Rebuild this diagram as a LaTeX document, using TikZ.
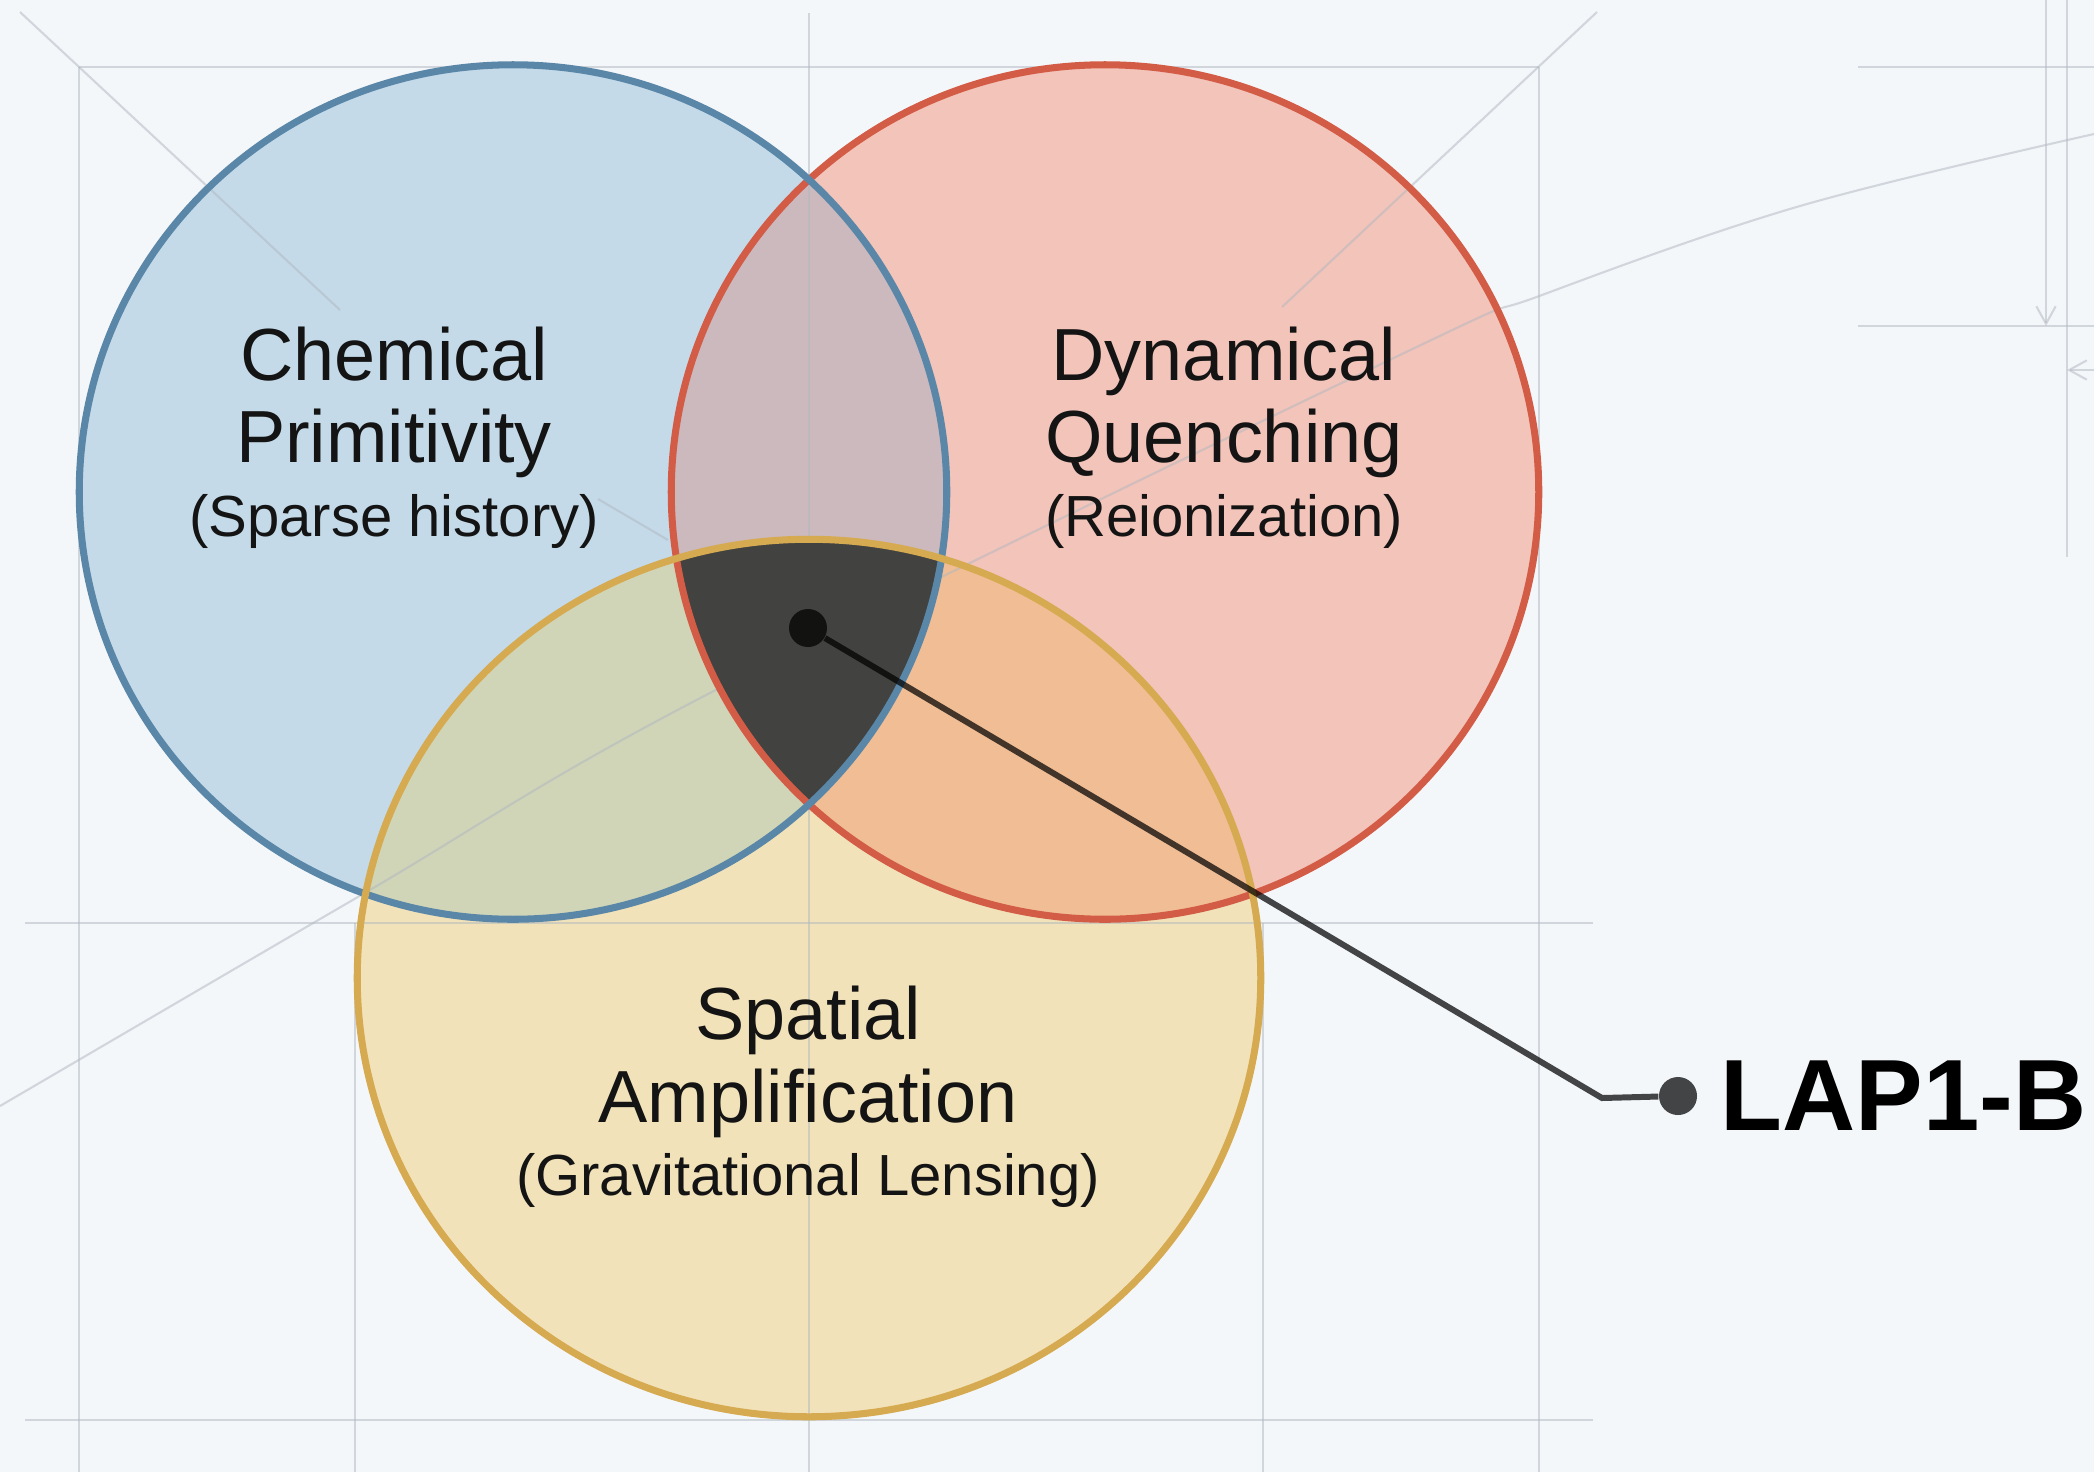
\documentclass[tikz,border=0pt]{standalone}
\usepackage{fontspec}
\setmainfont{Liberation Sans}
\usetikzlibrary{positioning,arrows.meta}

\definecolor{bgc}{RGB}{244,247,250}
\definecolor{gridc}{RGB}{176,183,191}
\definecolor{bluef}{RGB}{196,218,233}
\definecolor{redf}{RGB}{242,196,186}
\definecolor{yelf}{RGB}{242,226,186}
\definecolor{brf}{RGB}{203,185,190}
\definecolor{byf}{RGB}{208,213,184}
\definecolor{ryf}{RGB}{240,189,148}
\definecolor{allf}{RGB}{66,66,64}
\definecolor{bluel}{RGB}{90,135,168}
\definecolor{redl}{RGB}{210,92,70}
\definecolor{yell}{RGB}{214,170,80}
\definecolor{txt}{RGB}{20,20,20}

\begin{document}
\begin{tikzpicture}[x=0.01cm, y=-0.01cm,
	rbig/.style={x radius=4.335cm, y radius=4.27cm},
	rylw/.style={x radius=4.515cm, y radius=4.385cm},
	grid/.style={gridc, line width=0.6pt, opacity=0.5},
	ring/.style={line width=2pt},
	title/.style={anchor=base, text=txt, font=\fontsize{21}{25}\selectfont},
	sub/.style={anchor=base, text=txt, font=\fontsize{16.5}{20}\selectfont},
	conn/.style={black, opacity=0.72, line width=1.7pt},
	dot/.style={circle, fill=black, fill opacity=0.72, inner sep=0pt, minimum size=0.38cm},
	lapf/.style={inner sep=0pt, text=black, font=\fontsize{28.8}{34}\selectfont\bfseries},
	barb/.style={-{Straight Barb[length=5pt, width=5.5pt]}}]

	\fill[bgc] (0,0) rectangle (2094,1472);
	\useasboundingbox (0,0) rectangle (2094,1472);

	\coordinate (cb) at (513,492);
	\coordinate (cr) at (1105,492);
	\coordinate (cy) at (809,978);

	% fills
	\fill[bluef] (cb) ellipse [rbig];
	\fill[redf] (cr) ellipse [rbig];
	\fill[yelf] (cy) ellipse [rylw];
	\begin{scope}
		\clip (cb) ellipse [rbig];
		\fill[brf] (cr) ellipse [rbig];
		\fill[byf] (cy) ellipse [rylw];
	\end{scope}
	\begin{scope}
		\clip (cr) ellipse [rbig];
		\fill[ryf] (cy) ellipse [rylw];
	\end{scope}

	% construction lines
	\draw[grid] (79,67) -- (1539,67);
	\draw[grid] (25,923) -- (1593,923);
	\draw[grid] (25,1420) -- (1593,1420);
	\draw[grid] (79,67) -- (79,1472);
	\draw[grid] (355,923) -- (355,1472);
	\draw[grid] (809,13) -- (809,1472);
	\draw[grid] (1263,923) -- (1263,1472);
	\draw[grid] (1539,67) -- (1539,1472);
	\draw[grid] (20,12) -- (340,310);
	\draw[grid] (1597,12) -- (1282,307);
	\draw[grid] (598,499) -- (668,540);
	\draw[grid] plot[smooth, tension=0.6] coordinates {(0,1106) (363,894) (708,694) (1402,354) (1542,295) (1800,206) (2094,134)};

	\draw[grid] (1858,67) -- (2094,67);
	\draw[grid] (1858,326) -- (2094,326);
	\draw[grid, barb] (2046,0) -- (2046,326);
	\draw[grid] (2067,0) -- (2067,557);
	\draw[grid, barb] (2094,370) -- (2067,370);

	% centre
	\begin{scope}
		\clip (cb) ellipse [rbig];
		\clip (cr) ellipse [rbig];
		\fill[allf] (cy) ellipse [rylw];
	\end{scope}

	% rings
	\draw[ring, redl] (cr) ellipse [rbig];
	\draw[ring, bluel] (cb) ellipse [rbig];
	\draw[ring, yell] (cy) ellipse [rylw];

	% labels
	\node[title] (chem) at (394,380) {Chemical};
	\node[title] (prim) at (394,462) {Primitivity};
	\node[sub] (sparse) at (394,536) {(Sparse history)};

	\node[title] (dyn) at (1224,380) {Dynamical};
	\node[title] (quen) at (1224,462) {Quenching};
	\node[sub] (reion) at (1224,536) {(Reionization)};

	\node[title] (spat) at (808,1039) {Spatial};
	\node[title] (ampl) at (808,1122) {Amplification};
	\node[sub] (grav) at (808,1195) {(Gravitational Lensing)};

	% pointer
	\node[dot] (cd) at (808,628) {};
	\node[dot] (ed) at (1678,1096) {};
	\coordinate (el) at (1602,1098);
	\draw[conn] (cd) -- (el) -- (ed);
	\node[lapf, right=0.22cm of ed] (lap) {LAP1-B};

\end{tikzpicture}
\end{document}
